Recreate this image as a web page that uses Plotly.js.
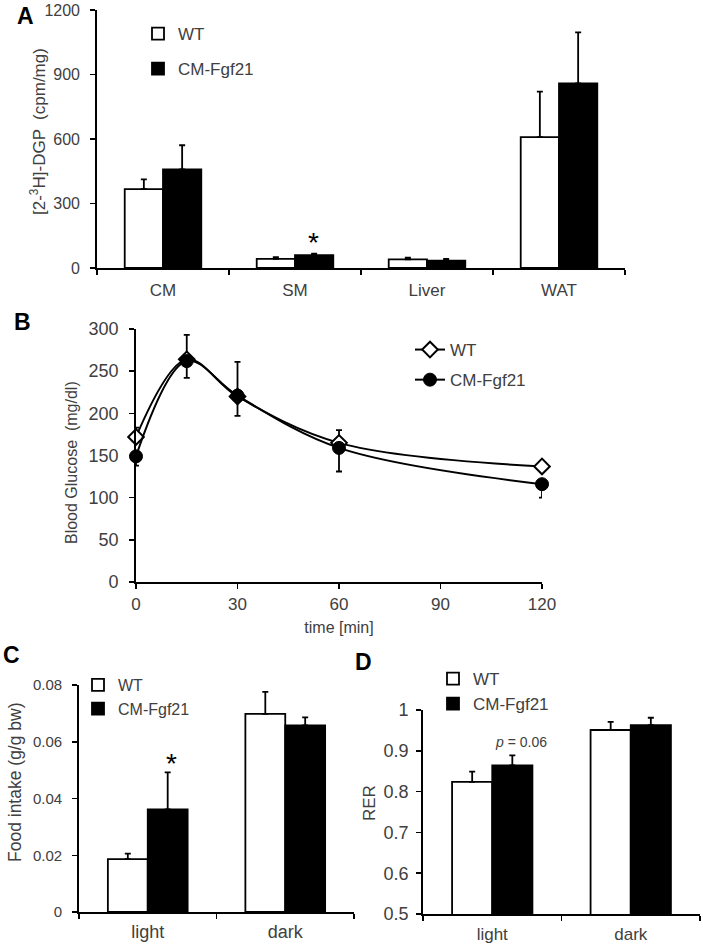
<!DOCTYPE html>
<html>
<head>
<meta charset="utf-8">
<script src="https://cdn.plot.ly/plotly-3.0.1.min.js"></script>
<style>html,body{margin:0;padding:0;background:#fff;}#chart{width:703px;height:944px;}</style>
</head>
<body>
<div id="chart"></div>
<script>
// ---- Panel A: [2-3H]-DGP uptake ----
const tissues = ['CM', 'SM', 'Liver', 'WAT'];
const dgpWT = [367, 42, 40, 609];
const dgpWTerr = [45, 8, 8, 211];
const dgpCF = [459, 60, 34, 859];
const dgpCFerr = [112, 7, 8, 237];

// ---- Panel B: glucose tolerance ----
const timeMin = [0, 15, 30, 60, 120];
const glucWT = [172, 264, 220, 165, 137];
const glucWTerr = [11, 29, 41, 15, 0];
const glucCF = [149, 262, 221, 159, 116];
const glucCFerr = [11, 20, 24, 28, 16];

// ---- Panel C: food intake ----
const phases = ['light', 'dark'];
const foodWT = [0.0186, 0.0698];
const foodWTerr = [0.0020, 0.0078];
const foodCF = [0.0362, 0.0658];
const foodCFerr = [0.0130, 0.0028];

// ---- Panel D: RER ----
const rerWT = [0.824, 0.951];
const rerWTerr = [0.025, 0.020];
const rerCF = [0.864, 0.963];
const rerCFerr = [0.025, 0.018];

const W = 703, H = 944;
const px = v => v / W;
const py = v => 1 - v / H;
const FONT = 'Liberation Sans, Arial, sans-serif';
const GRAY = '#404040';

function barTrace(x, y, err, name, fill, xa, ya, leg, grp) {
  return {
    type: 'bar', x: x, y: y, name: name,
    xaxis: xa, yaxis: ya, legend: leg, legendgroup: grp,
    marker: {color: fill, line: {color: '#000', width: 1.8}},
    error_y: {type: 'data', symmetric: false, array: err, arrayminus: err.map(() => 0),
              color: '#000', thickness: 1.8, width: 3}
  };
}

const traces = [
  barTrace(tissues, dgpWT, dgpWTerr, 'WT', '#fff', 'x', 'y', 'legend', 'aw'),
  barTrace(tissues, dgpCF, dgpCFerr, 'CM-Fgf21', '#000', 'x', 'y', 'legend', 'ac'),
  {
    type: 'scatter', mode: 'lines+markers', x: timeMin, y: glucWT, name: 'WT',
    xaxis: 'x2', yaxis: 'y2', legend: 'legend2', legendgroup: 'bw', cliponaxis: false,
    line: {color: '#000', width: 2, shape: 'spline', smoothing: 1},
    marker: {symbol: 'diamond', size: 12, color: '#fff', line: {color: '#000', width: 2}},
    error_y: {type: 'data', symmetric: false, array: glucWTerr, arrayminus: glucWTerr.map(() => 0),
              color: '#000', thickness: 1.8, width: 3}
  },
  {
    type: 'scatter', mode: 'lines+markers', x: timeMin, y: glucCF, name: 'CM-Fgf21',
    xaxis: 'x2', yaxis: 'y2', legend: 'legend2', legendgroup: 'bc', cliponaxis: false,
    line: {color: '#000', width: 2, shape: 'spline', smoothing: 1},
    marker: {symbol: 'circle', size: 13, color: '#000', line: {color: '#000', width: 1}},
    error_y: {type: 'data', symmetric: false, array: glucCFerr.map(() => 0), arrayminus: glucCFerr,
              color: '#000', thickness: 1.8, width: 3}
  },
  barTrace(phases, foodWT, foodWTerr, 'WT', '#fff', 'x3', 'y3', 'legend3', 'cw'),
  barTrace(phases, foodCF, foodCFerr, 'CM-Fgf21', '#000', 'x3', 'y3', 'legend3', 'cc'),
  barTrace(phases, rerWT, rerWTerr, 'WT', '#fff', 'x4', 'y4', 'legend4', 'dw'),
  barTrace(phases, rerCF, rerCFerr, 'CM-Fgf21', '#000', 'x4', 'y4', 'legend4', 'dc')
];

function yAx(dom, range, dtick, fs, lso) {
  return {
    domain: dom, range: range, dtick: dtick, tick0: range[0],
    showgrid: false, zeroline: false, showline: true, linecolor: '#000', linewidth: 1.8,
    ticks: 'outside', ticklen: 5, tickwidth: 1.5, tickcolor: '#000', ticklabelstandoff: lso,
    tickfont: {family: FONT, size: fs, color: GRAY},
    fixedrange: true
  };
}
function xCat(dom, anchor, fs, lso) {
  return {
    domain: dom, anchor: anchor, type: 'category',
    showgrid: false, zeroline: false, showline: true, linecolor: '#000', linewidth: 1.8,
    ticks: 'outside', tickson: 'boundaries', ticklen: 5, tickwidth: 1.5, tickcolor: '#000',
    ticklabelstandoff: lso,
    tickfont: {family: FONT, size: fs, color: GRAY}, fixedrange: true
  };
}
function legendAt(x, y, fs, gap) {
  return {
    x: px(x), y: py(y), xanchor: 'left', yanchor: 'top', bgcolor: 'rgba(0,0,0,0)',
    borderwidth: 0, traceorder: 'grouped', tracegroupgap: gap,
    font: {family: FONT, size: fs, color: GRAY}
  };
}
function panelLabel(t, x, y) {
  return {text: '<b>' + t + '</b>', xref: 'paper', yref: 'paper', x: px(x), y: py(y),
          xanchor: 'center', yanchor: 'middle', showarrow: false,
          font: {family: FONT, size: 23, color: '#000'}};
}
function yTitle(t, x, y, fs) {
  return {text: t, xref: 'paper', yref: 'paper', x: px(x), y: py(y), textangle: -90,
          xanchor: 'center', yanchor: 'middle', showarrow: false,
          font: {family: FONT, size: fs, color: GRAY}};
}

const layout = {
  width: W, height: H, margin: {l: 0, r: 0, t: 0, b: 0},
  paper_bgcolor: '#fff', plot_bgcolor: '#fff',
  barmode: 'group', bargap: 0.42, bargroupgap: 0,
  font: {family: FONT, color: GRAY},
  showlegend: true,

  xaxis: xCat([px(97), px(625)], 'y', 17, 6),
  yaxis: yAx([py(268), py(10)], [0, 1200], 300, 16, 7),

  xaxis2: {
    domain: [px(136), px(542)], anchor: 'y2', range: [0, 120], dtick: 30, tick0: 0,
    showgrid: false, zeroline: false, showline: true, linecolor: '#000', linewidth: 1.8,
    ticks: 'outside', ticklen: 5, tickwidth: 1.5, tickcolor: '#000', ticklabelstandoff: 1,
    tickfont: {family: FONT, size: 17, color: GRAY},
    title: {text: 'time [min]', font: {family: FONT, size: 16, color: GRAY}, standoff: 8},
    fixedrange: true
  },
  yaxis2: Object.assign(yAx([py(582), py(329)], [0, 300], 50, 18, 7), {anchor: 'x2'}),

  xaxis3: xCat([px(79), px(354)], 'y3', 18, 3),
  yaxis3: Object.assign(yAx([py(912), py(685)], [0, 0.08], 0.02, 15, 7), {anchor: 'x3'}),

  xaxis4: xCat([px(423), px(700)], 'y4', 17, 4),
  yaxis4: Object.assign(yAx([py(914), py(710)], [0.5, 1], 0.1, 18, 4), {anchor: 'x4'}),

  legend: legendAt(138, 16, 17, 10),
  legend2: legendAt(410, 332, 17, 5),
  legend3: legendAt(78, 668, 16, 0),
  legend4: legendAt(433, 661, 17, 0),

  annotations: [
    panelLabel('A', 25, 16),
    panelLabel('B', 23, 322),
    panelLabel('C', 11, 655),
    panelLabel('D', 363, 662),
    yTitle('[2-<sup>3</sup>H]-DGP  (cpm/mg)', 38, 132, 17),
    yTitle('Blood Glucose  (mg/dl)', 71, 463, 16),
    yTitle('Food intake (g/g bw)', 15, 782, 17.5),
    yTitle('RER', 369, 803, 17),
    {text: '*', xref: 'x', yref: 'y', x: 'SM', y: dgpCF[1] + dgpCFerr[1], xshift: 18, yshift: -6,
     yanchor: 'bottom', showarrow: false, font: {family: FONT, size: 28, color: '#000'}},
    {text: '*', xref: 'x3', yref: 'y3', x: 'light', y: foodCF[0] + foodCFerr[0], xshift: 24, yshift: -9,
     yanchor: 'bottom', showarrow: false, font: {family: FONT, size: 28, color: '#000'}},
    {text: '<i>p</i> = 0.06', xref: 'x4', yref: 'y4', x: 'light', y: rerCF[0] + rerCFerr[0], xshift: 29, yshift: 3,
     yanchor: 'bottom', showarrow: false, font: {family: FONT, size: 14, color: GRAY}}
  ]
};

Plotly.newPlot('chart', traces, layout, {staticPlot: true, displayModeBar: false});
</script>
</body>
</html>
